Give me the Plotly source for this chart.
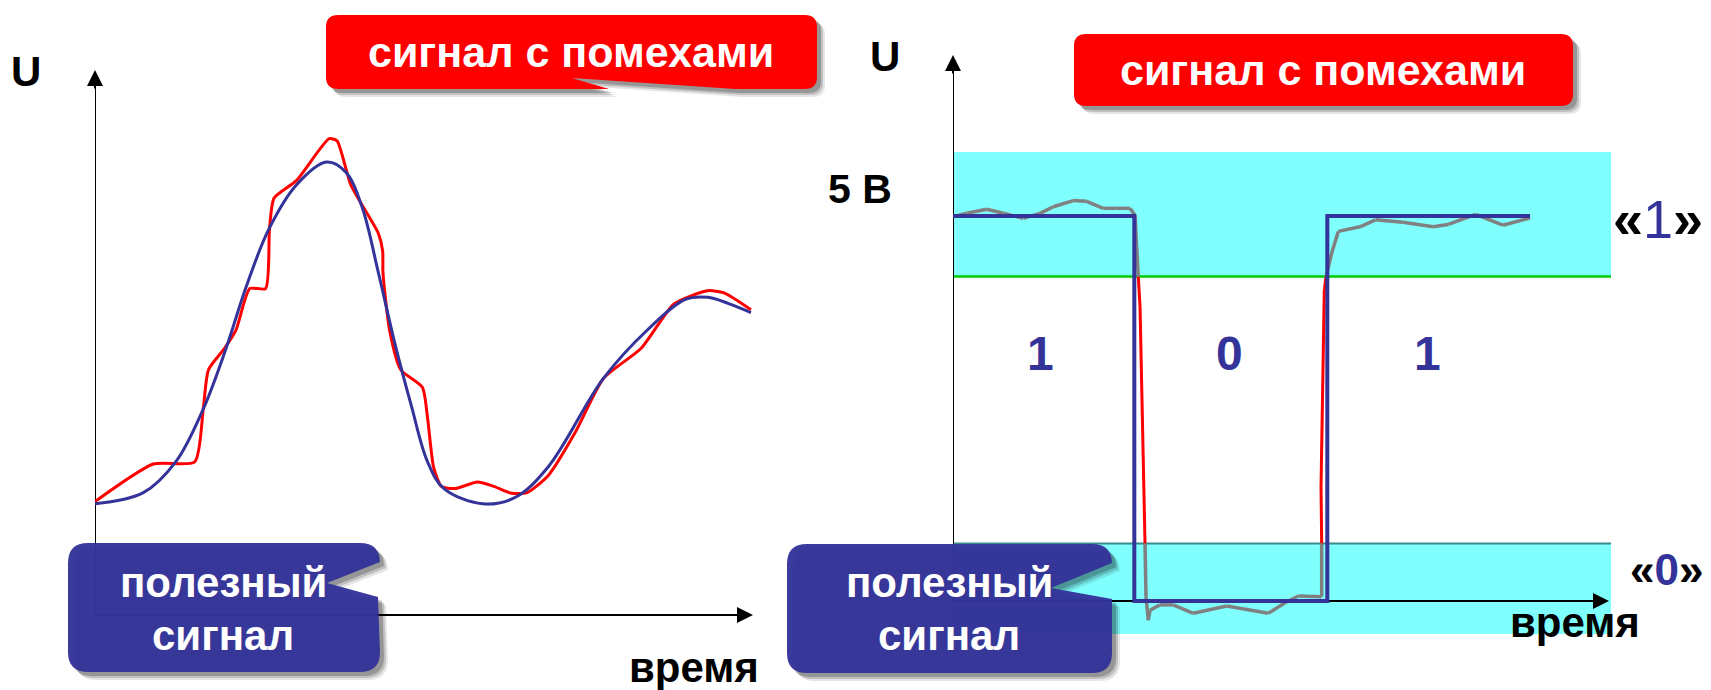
import plotly.graph_objects as go

W, H = 1711, 690
FONT = "Liberation Sans, Arial, sans-serif"

# ---------------- data ----------------
# left panel: analog signal (time, voltage in arbitrary units)
left_t_clean = [0, 0.73, 1.23, 1.65, 1.98, 2.31, 2.65, 3.07, 3.53, 3.82, 4.07, 4.32, 4.57,
                4.82, 5.07, 5.32, 5.91, 6.41, 6.91, 7.75, 8.42, 9.0, 9.34, 9.67, 10.0]
left_u_clean = [2.04, 2.24, 2.81, 3.78, 4.83, 6.04, 7.08, 7.89, 8.31, 8.13, 7.49, 6.28, 4.99,
                3.85, 2.81, 2.32, 2.04, 2.16, 2.72, 4.34, 5.23, 5.79, 5.83, 5.71, 5.55]

left_t_noisy = [0, 0.89, 1.52, 1.65, 1.73, 1.98, 2.15, 2.36, 2.6, 2.66, 2.73, 3.07, 3.57, 3.69,
                3.90, 4.32, 4.385, 4.39, 4.49, 4.66, 4.99, 5.07, 5.16, 5.28, 5.49, 5.83, 6.08,
                6.33, 6.58, 6.91, 7.33, 7.75, 8.33, 8.83, 9.34, 9.59, 10.0]
left_u_noisy = [2.08, 2.77, 2.81, 3.78, 4.5, 4.9, 5.23, 5.99, 5.99, 7.08, 7.65, 7.97, 8.74, 8.70,
                7.89, 7.0, 6.68, 6.28, 5.23, 4.5, 4.18, 3.61, 2.72, 2.36, 2.32, 2.44, 2.36,
                2.24, 2.24, 2.56, 3.37, 4.34, 4.9, 5.71, 5.95, 5.91, 5.6]

# right panel: digital signal (time, volts)
sq_t = [0, 2.764, 2.764, 5.706, 5.706, 8.796]
sq_u = [5, 5, 0, 0, 5, 5]

dig_t = [0.005, 0.209, 0.514, 0.767, 1.072, 1.326, 1.529, 1.834, 2.038, 2.291, 2.495, 2.698,
         2.774, 2.80, 2.825, 2.851, 2.927, 2.942, 2.977, 3.003, 3.155, 3.358, 3.663, 4.172,
         4.806, 5.087, 5.264, 5.62, 5.62, 5.61, 5.66, 5.686, 5.773, 5.873, 6.204, 6.44,
         6.857, 7.319, 7.55, 7.966, 8.383, 8.799]
dig_u = [4.99, 5.035, 5.087, 5.035, 4.97, 5.035, 5.12, 5.2, 5.19, 5.10, 5.10, 5.10,
         5.01, 4.60, 4.21, 3.82, 0.75, 0.056, -0.25, -0.12, -0.05, -0.05, -0.16, -0.065,
         -0.16, -0.01, 0.065, 0.056, 0.75, 1.48, 4.04, 4.21, 4.52, 4.80, 4.86, 4.95,
         4.92, 4.86, 4.89, 5.02, 4.88, 4.975]

high_zone = [4.214, 5.83]     # "1" band
low_zone = [-0.43, 0.747]     # "0" band
bit_t = [1.34, 4.21, 7.23]
bit_labels = ["1", "0", "1"]
bit_u = 3.21

# ---------------- helpers ----------------
def PX(x):
    return x / W


def PY(y):
    return 1 - y / H


def callout_path(x0, y0, x1, y1, r, right_notch=None, bottom_notch=None, dx=0, dy=0):
    def P(x, y):
        return f"{PX(x + dx):.5f},{PY(y + dy):.5f}"

    s = f"M{P(x0 + r, y0)} L{P(x1 - r, y0)} Q{P(x1, y0)} {P(x1, y0 + r)}"
    if right_notch:
        for (x, y) in right_notch:
            s += f" L{P(x, y)}"
    s += f" L{P(x1, y1 - r)} Q{P(x1, y1)} {P(x1 - r, y1)}"
    if bottom_notch:
        for (x, y) in bottom_notch:
            s += f" L{P(x, y)}"
    s += f" L{P(x0 + r, y1)} Q{P(x0, y1)} {P(x0, y1 - r)} L{P(x0, y0 + r)} Q{P(x0, y0)} {P(x0 + r, y0)} Z"
    return s


def split_zones(ts, us, lo, hi):
    gx, gy, rx, ry = [], [], [], []
    for i in range(len(ts) - 1):
        mid = (us[i] + us[i + 1]) / 2
        seg_x = [ts[i], ts[i + 1], None]
        seg_y = [us[i], us[i + 1], None]
        if lo < mid < hi:
            rx += seg_x
            ry += seg_y
        else:
            gx += seg_x
            gy += seg_y
    return gx, gy, rx, ry


# ---------------- figure ----------------
fig = go.Figure()

BLUE = "#333399"
RED = "#FF0000"

fig.add_trace(go.Scatter(x=left_t_noisy, y=left_u_noisy, mode="lines",
                         line=dict(color=RED, width=3, shape="spline", smoothing=0.6),
                         xaxis="x", yaxis="y", hoverinfo="skip"))
fig.add_trace(go.Scatter(x=left_t_clean, y=left_u_clean, mode="lines",
                         line=dict(color=BLUE, width=3, shape="spline", smoothing=1.0),
                         xaxis="x", yaxis="y", hoverinfo="skip"))

gx, gy, rx, ry = split_zones(dig_t, dig_u, low_zone[1], high_zone[0])
fig.add_trace(go.Scatter(x=gx, y=gy, mode="lines", line=dict(color="#808080", width=3.5),
                         xaxis="x2", yaxis="y2", hoverinfo="skip"))
fig.add_trace(go.Scatter(x=rx, y=ry, mode="lines", line=dict(color=RED, width=3),
                         xaxis="x2", yaxis="y2", hoverinfo="skip"))
fig.add_trace(go.Scatter(x=sq_t, y=sq_u, mode="lines", line=dict(color=BLUE, width=4),
                         xaxis="x2", yaxis="y2", hoverinfo="skip"))

shapes = []
# bands
for z in (high_zone, low_zone):
    shapes.append(dict(type="rect", xref="x2", yref="y2", x0=0, x1=10.03, y0=z[0], y1=z[1],
                       fillcolor="#80FFFF", line=dict(width=0), layer="below"))
shapes.append(dict(type="line", xref="x2", yref="y2", x0=0, x1=10.03, y0=high_zone[0], y1=high_zone[0],
                   line=dict(color="#00CC00", width=2.5), layer="below"))
shapes.append(dict(type="line", xref="x2", yref="y2", x0=0, x1=10.03, y0=low_zone[1], y1=low_zone[1],
                   line=dict(color="#3A8A8A", width=2), layer="below"))
# axis lines
shapes += [
    dict(type="line", xref="x", yref="y", x0=0, x1=10.0, y0=0, y1=0, line=dict(color="black", width=2), layer="below"),
    dict(type="line", xref="x", yref="y", x0=0, x1=0, y0=0, y1=9.9, line=dict(color="black", width=2), layer="below"),
    dict(type="line", xref="x2", yref="y2", x0=0, x1=9.97, y0=0, y1=0, line=dict(color="black", width=2), layer="below"),
    dict(type="line", xref="x2", yref="y2", x0=0, x1=0, y0=0, y1=7.0, line=dict(color="black", width=2), layer="below"),
]


# callouts (shadows + bodies)
def add_callout(x0, y0, x1, y1, r, color, right_notch=None, bottom_notch=None, opacity=1.0):
    for off, a in ((8, 0.10), (6, 0.16), (4, 0.22)):
        shapes.append(dict(type="path", xref="paper", yref="paper",
                           path=callout_path(x0, y0, x1, y1, r, right_notch, bottom_notch, dx=off, dy=off),
                           fillcolor=f"rgba(0,0,0,{a})", line=dict(width=0), layer="above"))
    shapes.append(dict(type="path", xref="paper", yref="paper",
                       path=callout_path(x0, y0, x1, y1, r, right_notch, bottom_notch),
                       fillcolor=color, line=dict(width=0), layer="above", opacity=opacity))


add_callout(326, 15, 817, 89, 12, RED,
            bottom_notch=[(735, 89), (572, 78), (609, 89)])
add_callout(1074, 34, 1573, 106, 12, RED)
add_callout(68, 543, 380, 672, 20, BLUE,
            right_notch=[(380, 562), (327, 583), (378, 597)], opacity=0.96)
add_callout(787, 544, 1112, 673, 20, BLUE,
            right_notch=[(1112, 563), (1051, 588), (1112, 599)], opacity=0.96)

ann = []
# arrowheads
for xr, yr, x, y, axp, ayp in (("x", "y", 0, 10.0, 0, 20), ("x", "y", 10.03, 0, -20, 0),
                               ("x2", "y2", 0, 7.09, 0, 20), ("x2", "y2", 10.0, 0, -20, 0)):
    ann.append(dict(xref=xr, yref=yr, x=x, y=y, ax=axp, ay=ayp, text="", showarrow=True,
                    arrowhead=2, arrowsize=1.6, arrowwidth=2, arrowcolor="black", standoff=0))


def txt(x, y, s, size, color="black", bold=True, xref="paper", yref="paper"):
    ann.append(dict(xref=xref, yref=yref, x=PX(x) if xref == "paper" else x,
                    y=PY(y) if yref == "paper" else y, text=s, showarrow=False,
                    xanchor="center", yanchor="middle",
                    font=dict(family=FONT, size=size, color=color, weight="bold" if bold else "normal")))


txt(26, 71, "U", 42)
txt(885, 56, "U", 42)
txt(860, 189, "5 В", 41)
txt(694, 667, "время", 42)
txt(1575, 622, "время", 42)
txt(571, 52, "сигнал с помехами", 43, "white")
txt(1323, 70, "сигнал с помехами", 43, "white")
txt(223, 582, "полезный", 42, "white")
txt(223, 635, "сигнал", 42, "white")
txt(949, 582, "полезный", 42, "white")
txt(949, 635, "сигнал", 42, "white")
txt(1658, 219, "«<span style='color:#333399;font-weight:normal'>1</span>»", 54)
txt(1666, 569, "«<span style='color:#333399'>0</span>»", 44)
for t, s in zip(bit_t, bit_labels):
    txt(t, bit_u, s, 48, BLUE, xref="x2", yref="y2")

ax_common = dict(visible=False, showgrid=False, zeroline=False, fixedrange=True)
fig.update_layout(
    width=W, height=H, margin=dict(l=0, r=0, t=0, b=0),
    paper_bgcolor="white", plot_bgcolor="rgba(0,0,0,0)", showlegend=False,
    xaxis=dict(domain=[95 / W, 760 / W], range=[0, (760 - 95) / 65.6], **ax_common),
    yaxis=dict(domain=[0, 1], range=[(615 - 690) / 54.5, 615 / 54.5], **ax_common),
    xaxis2=dict(domain=[953 / W, 1.0], range=[0, (W - 953) / 65.6], anchor="y2", **ax_common),
    yaxis2=dict(domain=[0, 1], range=[(601 - 690) / 77, 601 / 77], anchor="x2", **ax_common),
    shapes=shapes, annotations=ann,
)

fig.write_html("out.html", config={"displayModeBar": False},
               post_script="document.body.style.margin='0';document.body.style.padding='0';document.body.style.overflow='hidden';")
